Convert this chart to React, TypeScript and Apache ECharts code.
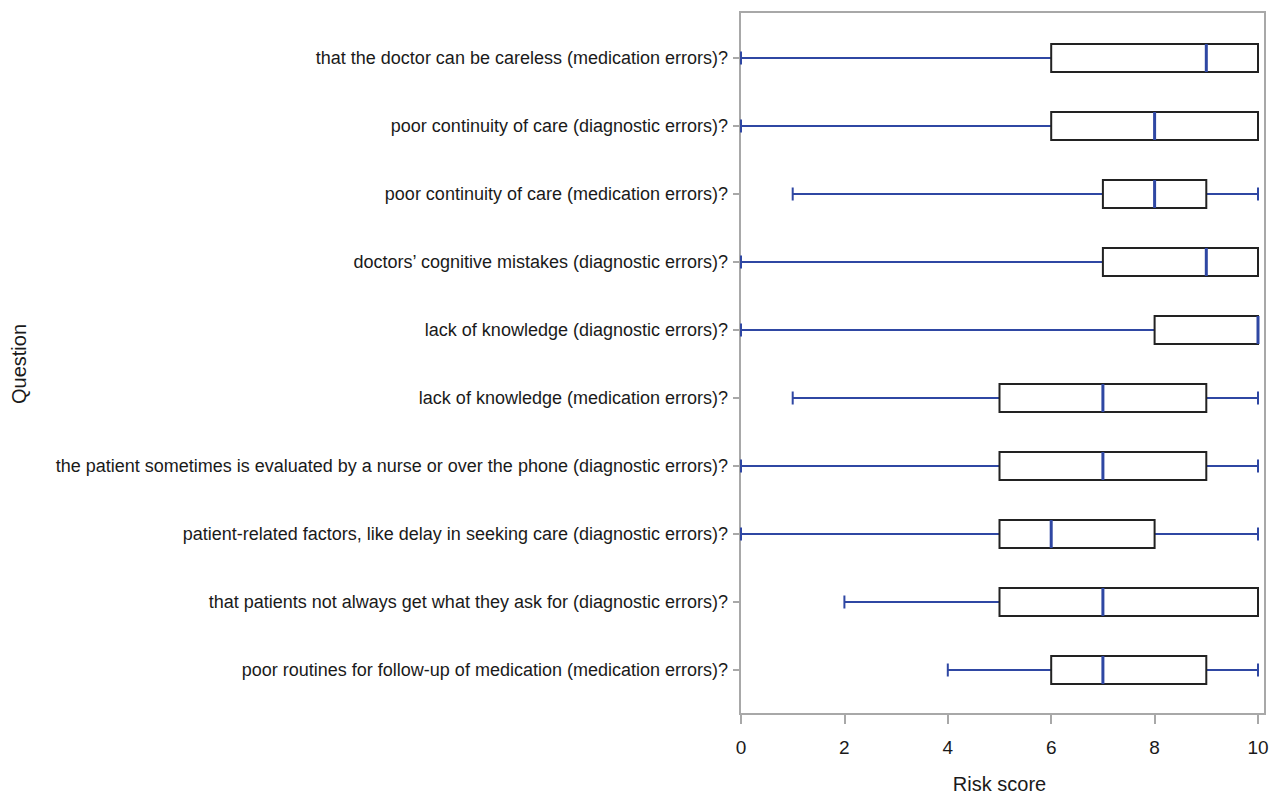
import React, { useEffect, useRef } from "react";
import * as echarts from "echarts";

const categories = [
  "that the doctor can be careless (medication errors)?",
  "poor continuity of care (diagnostic errors)?",
  "poor continuity of care (medication errors)?",
  "doctors’ cognitive mistakes (diagnostic errors)?",
  "lack of knowledge (diagnostic errors)?",
  "lack of knowledge (medication errors)?",
  "the patient sometimes is evaluated by a nurse or over the phone (diagnostic errors)?",
  "patient-related factors, like delay in seeking care (diagnostic errors)?",
  "that patients not always get what they ask for (diagnostic errors)?",
  "poor routines for follow-up of medication (medication errors)?",
];

// [min, Q1, median, Q3, max]
const mins = [0, 0, 1, 0, 0, 1, 0, 0, 2, 4];
const q1s = [6, 6, 7, 7, 8, 5, 5, 5, 5, 6];
const medians = [9, 8, 8, 9, 10, 7, 7, 6, 7, 7];
const q3s = [10, 10, 9, 10, 10, 9, 9, 8, 10, 9];
const maxs = [10, 10, 10, 10, 10, 10, 10, 10, 10, 10];

const xTicks = { min: 0, max: 10, interval: 2 };

const BLUE = "#2f47a3";
const GRAY = "#a8a8a8";
const FONT = "'Liberation Sans', Arial, sans-serif";

export default function App() {
  const ref = useRef<HTMLDivElement>(null);
  useEffect(() => {
    if (!ref.current) return;
    const chart = echarts.init(ref.current, null, { renderer: "svg" });
    const data = categories.map((_, i) => [i, mins[i], q1s[i], medians[i], q3s[i], maxs[i]]);
    chart.setOption({
      animation: false,
      backgroundColor: "#ffffff",
      textStyle: { fontFamily: FONT },
      grid: { left: 741, right: 11, top: 24, bottom: 93, containLabel: false, outerBoundsMode: "none" },
      graphic: [
        {
          type: "rect",
          shape: { x: 740, y: 12, width: 525, height: 702 },
          style: { fill: "none", stroke: GRAY, lineWidth: 2 },
          silent: true,
          z: 0,
        },
      ],
      xAxis: {
        type: "value",
        min: xTicks.min,
        max: xTicks.max,
        interval: xTicks.interval,
        offset: 10,
        splitLine: { show: false },
        axisLine: { show: false },
        axisTick: { show: true, length: 10, lineStyle: { color: GRAY, width: 2 } },
        axisLabel: { fontSize: 19, color: "#1a1a1a", margin: 24, fontFamily: FONT },
        name: "Risk score",
        nameLocation: "middle",
        nameGap: 60,
        nameTextStyle: { fontSize: 20, color: "#1a1a1a", fontFamily: FONT },
      },
      yAxis: {
        type: "category",
        inverse: true,
        data: categories,
        axisLine: { show: false },
        axisTick: { show: true, alignWithLabel: true, length: 8, lineStyle: { color: GRAY, width: 2 } },
        axisLabel: { fontSize: 18, color: "#1a1a1a", margin: 13, fontFamily: FONT },
        name: "Question",
        nameLocation: "middle",
        nameRotate: 90,
        nameGap: 712,
        nameTextStyle: { fontSize: 20, color: "#1a1a1a", fontFamily: FONT },
      },
      series: [
        {
          type: "custom",
          data,
          encode: { x: [1, 2, 3, 4, 5], y: 0 },
          renderItem: (params: any, api: any) => {
            const c = api.value(0);
            const pMin = api.coord([api.value(1), c]);
            const pQ1 = api.coord([api.value(2), c]);
            const pMed = api.coord([api.value(3), c]);
            const pQ3 = api.coord([api.value(4), c]);
            const pMax = api.coord([api.value(5), c]);
            const y = pMin[1];
            const boxH = 28;
            const capH = 13;
            return {
              type: "group",
              children: [
                { type: "line", shape: { x1: pMin[0], y1: y, x2: pQ1[0], y2: y }, style: { stroke: BLUE, lineWidth: 2 } },
                { type: "line", shape: { x1: pQ3[0], y1: y, x2: pMax[0], y2: y }, style: { stroke: BLUE, lineWidth: 2 } },
                { type: "line", shape: { x1: pMin[0], y1: y - capH / 2, x2: pMin[0], y2: y + capH / 2 }, style: { stroke: BLUE, lineWidth: 2 } },
                { type: "line", shape: { x1: pMax[0], y1: y - capH / 2, x2: pMax[0], y2: y + capH / 2 }, style: { stroke: BLUE, lineWidth: 2 } },
                { type: "rect", shape: { x: pQ1[0], y: y - boxH / 2, width: pQ3[0] - pQ1[0], height: boxH }, style: { fill: "#ffffff", stroke: "#222222", lineWidth: 2 } },
                { type: "line", shape: { x1: pMed[0], y1: y - boxH / 2, x2: pMed[0], y2: y + boxH / 2 }, style: { stroke: BLUE, lineWidth: 3 } },
              ],
            };
          },
        },
      ],
    });
    return () => chart.dispose();
  }, []);
  return <div ref={ref} style={{ position: "fixed", left: 0, top: 0, width: 1269, height: 797 }} />;
}
